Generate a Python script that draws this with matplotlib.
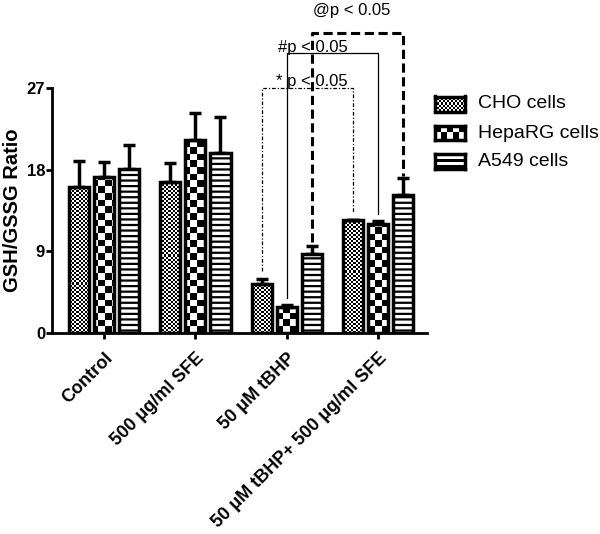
import numpy as np
import matplotlib
matplotlib.use("Agg")
import matplotlib.pyplot as plt

plt.rcParams['font.family'] = ['Liberation Sans', 'DejaVu Sans']
plt.rcParams['hatch.linewidth'] = 1.6

# data
groups    = ['Control', '500 μg/ml SFE', '50 μM tBHP', '50 μM tBHP+ 500 μg/ml SFE']
series    = ['CHO cells', 'HepaRG cells', 'A549 cells']
cho_mean  = [16.1, 16.6, 5.4, 12.4]
cho_err   = [2.9, 2.1, 0.5, 0.1]
hep_mean  = [17.2, 21.3, 2.9, 12.0]
hep_err   = [1.7, 2.9, 0.15, 0.3]
a549_mean = [18.1, 19.8, 8.7, 15.2]
a549_err  = [2.6, 4.0, 0.85, 1.9]

# significance brackets
sig_text  = ['* p < 0.05', '#p < 0.05', '@p < 0.05']
sig_left  = [(2, 0), (2, 1), (2, 2)]   # (group, series)
sig_right = [(3, 0), (3, 1), (3, 2)]
sig_y     = [27.0, 30.9, 33.1]

means = [cho_mean, hep_mean, a549_mean]
errs  = [cho_err, hep_err, a549_err]

width  = 0.22
offset = 0.275
x = np.arange(len(groups))

fig = plt.figure(figsize=(6, 5.34), dpi=100)
ax = fig.add_axes([0.0867, 0.3764, 0.625, 0.4588])
xlim = (-0.571, 3.538)
ylim = (0, 27)
ax.set_xlim(*xlim)
ax.set_ylim(*ylim)


def checker(rows, cols):
    return (np.add.outer(np.arange(rows), np.arange(cols)) % 2).astype(float)


def stripes(rows, cols):
    return np.tile((np.arange(rows) % 2)[:, None], (1, cols)).astype(float)


# textures covering the whole axes, clipped to each bar
wpx, hpx = ax.bbox.width, ax.bbox.height
tex = [checker(int(hpx / 2), int(wpx / 2)), checker(int(hpx / 6.5), int(wpx / 6.5)), None]
hatches = [None, None, '---']

for i in range(3):
    xs = x + (i - 1) * offset
    ax.errorbar(xs, means[i], yerr=[np.zeros(4), errs[i]], fmt='none',
                ecolor='black', elinewidth=2.5, capsize=4.5, capthick=2.5,
                zorder=2.5, clip_on=False)
    bars = ax.bar(xs, means[i], width, facecolor='white' if tex[i] is None else 'none',
                  edgecolor='black', linewidth=2.5, hatch=hatches[i], zorder=3)
    if tex[i] is not None:
        for b in bars:
            im = ax.imshow(tex[i], cmap='gray', vmin=0, vmax=1, aspect='auto',
                           interpolation='nearest', origin='lower',
                           extent=(xlim[0], xlim[1], ylim[0], ylim[1]), zorder=2)
            im.set_clip_path(b)

ax.set_xlim(*xlim)
ax.set_ylim(*ylim)

# brackets
styles = [dict(ls=(0, (3, 1.5, 1, 1.5)), lw=0.9),
          dict(ls='-', lw=0.9),
          dict(ls=(0, (3, 1.5)), lw=2.2)]
gaps = [(0.9, 0.8), (0.85, 0.8), (0.5, 0.2)]
text_x = [1.88, 1.90, 2.29]
text_dy = [0.2, 0.1, 2.0]
for k in range(3):
    gl, sl = sig_left[k]
    gr, sr = sig_right[k]
    xl = x[gl] + (sl - 1) * offset
    xr = x[gr] + (sr - 1) * offset
    yl = means[sl][gl] + errs[sl][gl] + gaps[k][0]
    yr = means[sr][gr] + errs[sr][gr] + gaps[k][1]
    ax.plot([xl, xl, xr, xr], [yl, sig_y[k], sig_y[k], yr], color='black',
            clip_on=False, zorder=4, **styles[k])
    ax.text(text_x[k], sig_y[k] + text_dy[k], sig_text[k], fontsize=12,
            ha='left', va='baseline')

# axes styling
for s in ['top', 'right']:
    ax.spines[s].set_visible(False)
for s in ['left', 'bottom']:
    ax.spines[s].set_linewidth(2)
ax.set_yticks([0, 9, 18, 27])
ax.set_xticks(x)
ax.set_xticklabels(groups, rotation=45, ha='right', rotation_mode='anchor',
                   fontsize=13, fontweight='bold')
ax.tick_params(axis='both', length=4, width=2, pad=1)
ax.tick_params(axis='x', pad=8)
for t in ax.get_yticklabels():
    t.set_fontsize(12)
    t.set_fontweight('bold')
ax.set_ylabel('GSH/GSSG Ratio', fontsize=14.5, fontweight='bold', labelpad=3)

# legend drawn as small boxes with the same textures
W, H = 600, 534
key_tex = [checker(7, 15), checker(2, 5), stripes(5, 1)]
rows_y = [104, 133, 161]
for i in range(3):
    kax = fig.add_axes([435 / W, 1 - (rows_y[i] + 7.5) / H, 30 / W, 15 / H])
    kax.imshow(key_tex[i], cmap='gray', vmin=0, vmax=1, aspect='auto',
               interpolation='nearest')
    kax.set_xticks([])
    kax.set_yticks([])
    for s in kax.spines.values():
        s.set_linewidth(2.5)
    fig.text(478 / W, 1 - rows_y[i] / H, series[i], fontsize=14,
             ha='left', va='center')

fig.savefig('out.png', dpi=100)
